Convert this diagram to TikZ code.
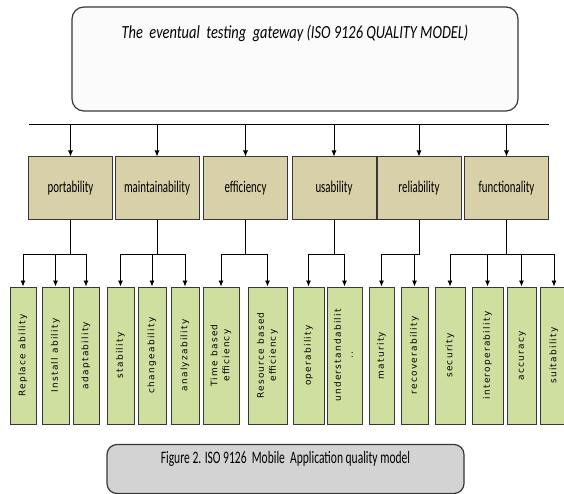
\documentclass[tikz,border=0pt]{standalone}
\usepackage{fontspec}
\setmainfont{Carlito}
\newfontfamily\squeezefont[FakeStretch=0.66]{Carlito}
\newfontfamily\titlefont[FakeStretch=0.78]{Carlito}
\newfontfamily\leaffont[LetterSpace=14]{DejaVu Sans}
\usetikzlibrary{arrows.meta}
\definecolor{khaki}{RGB}{216,208,168}
\definecolor{leafgreen}{RGB}{207,223,160}
\definecolor{capgray}{RGB}{211,211,211}
\definecolor{edge}{RGB}{55,55,55}
\newcommand\sidewaystext[1]{\rotatebox{90}{\renewcommand\arraystretch{1.2}\begin{tabular}{@{}c@{}}#1\end{tabular}}}
\begin{document}
\begin{tikzpicture}[x=1pt,y=1pt,>={Latex[length=6pt,width=5pt]},
  gatebox/.style={draw=edge,line width=1.2pt,rounded corners=12pt,fill=gray!3,minimum width=446pt,minimum height=104pt},
  catbox/.style={draw=edge,line width=1pt,fill=khaki,minimum width=84pt,minimum height=63pt,font=\squeezefont\fontsize{16.5}{18}\selectfont},
  leafbox/.style={draw=edge,line width=1pt,fill=leafgreen,minimum height=137pt,inner sep=0pt,font=\leaffont\fontsize{9}{10}\selectfont},
  capbox/.style={draw=edge,line width=1.2pt,rounded corners=10pt,fill=capgray,minimum width=357pt,minimum height=49pt,text height=12pt,text depth=24pt,font=\squeezefont\fontsize{17.5}{19}\selectfont},
  link/.style={draw=black,line width=0.8pt}]
  \useasboundingbox (0,0) rectangle (564,-494);
  \node[gatebox] (gateway) at (295,-59) {};
  \node[anchor=base,font=\titlefont\itshape\fontsize{18.5}{20}\selectfont] (gatewaytitle) at ([yshift=-32pt]gateway.north) {The\ \ eventual\ \ testing\ \ gateway (ISO 9126 QUALITY MODEL)};
  \coordinate (busL) at (29,-124);
  \coordinate (busR) at (549,-124);
  \draw[link] (busL) -- (busR);
  \foreach \cat/\xc in {portability/70.5,maintainability/157,efficiency/245.5,usability/334,reliability/419,functionality/506.5}{
    \node[catbox] (\cat) at (\xc,-188.5) {\cat};
    \draw[link,->] (\cat.north |- busL) -- (\cat.north);
  }
  \foreach \leaf/\cat/\xc/\w/\txt in {
    replace/portability/23/26/{Replace ability},
    install/portability/55.5/27/{Install ability},
    adapt/portability/86/26/adaptability,
    stab/maintainability/120.5/27/stability,
    change/maintainability/152/28/changeability,
    analyze/maintainability/185/28/analyzability,
    timeeff/efficiency/221/36/{Time based\\efficiency},
    reseff/efficiency/267.5/39/{Resource based\\efficiency},
    oper/usability/308.5/31/operability,
    under/usability/344.5/35/{understandabilit\\..},
    matur/reliability/381.5/25/maturity,
    recover/reliability/414.5/27/recoverability,
    secur/functionality/450/30/security,
    interop/functionality/487.5/31/interoperability,
    accur/functionality/521.5/29/accuracy,
    suit/functionality/554/28/suitability}{
    \node[leafbox,minimum width=\w pt] (\leaf) at (\xc,-355.5) {\sidewaystext{\txt}};
    \draw[link,->] (\cat.south) -- ++(0,-34) -| (\leaf.north);
  }
  \node[capbox] (caption) at (285.5,-469) {Figure 2. ISO 9126\ \ Mobile\ \ Application quality model};
\end{tikzpicture}
\end{document}
